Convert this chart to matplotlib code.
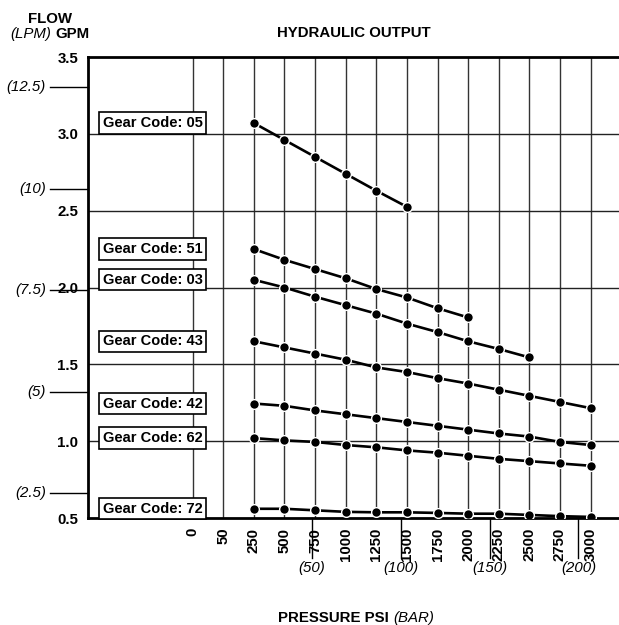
import numpy as np
import matplotlib.pyplot as plt
from matplotlib.transforms import blended_transform_factory

plt.rcParams['font.family'] = ['Liberation Sans', 'DejaVu Sans']

# pressure categories (psi) along the x axis
psi_labels = ['0', '50', '250', '500', '750', '1000', '1250', '1500',
              '1750', '2000', '2250', '2500', '2750', '3000']
psi_values = [0, 50, 250, 500, 750, 1000, 1250, 1500, 1750, 2000, 2250, 2500, 2750, 3000]

# flow (gpm) for each gear code, starting at 250 psi
gear_codes = ['05', '51', '03', '43', '42', '62', '72']
flow_05 = [3.07, 2.96, 2.85, 2.74, 2.63, 2.525]
flow_51 = [2.25, 2.18, 2.12, 2.06, 1.99, 1.935, 1.865, 1.805]
flow_03 = [2.05, 2.00, 1.94, 1.885, 1.83, 1.765, 1.71, 1.65, 1.60, 1.545]
flow_43 = [1.65, 1.61, 1.57, 1.53, 1.48, 1.45, 1.41, 1.375, 1.335, 1.295, 1.255, 1.215]
flow_42 = [1.245, 1.23, 1.20, 1.175, 1.15, 1.125, 1.10, 1.075, 1.05, 1.03, 0.995, 0.975]
flow_62 = [1.02, 1.005, 0.995, 0.975, 0.96, 0.94, 0.925, 0.905, 0.885, 0.87, 0.855, 0.84]
flow_72 = [0.56, 0.56, 0.55, 0.54, 0.537, 0.537, 0.533, 0.528, 0.528, 0.52, 0.512, 0.507]
flows = [flow_05, flow_51, flow_03, flow_43, flow_42, flow_62, flow_72]

gpm_ticks = [0.5, 1.0, 1.5, 2.0, 2.5, 3.0, 3.5]
lpm_ticks = [2.5, 5, 7.5, 10, 12.5]
lpm_labels = ['(2.5)', '(5)', '(7.5)', '(10)', '(12.5)']
bar_ticks = [50, 100, 150, 200]
bar_labels = ['(50)', '(100)', '(150)', '(200)']

fs = 10.8

fig = plt.figure(figsize=(6.19, 6.25), dpi=100)
ax = fig.add_axes([88 / 619, 107 / 625, 531 / 619, 461 / 625])

x_idx = np.arange(len(psi_labels))
for flow in flows:
    xs = x_idx[2:2 + len(flow)]
    ax.plot(xs, flow, color='black', lw=1.9, marker='o', ms=7,
            mfc='black', mec='white', mew=1, zorder=4)

# gear code boxes, placed at the first value of each curve
for code, flow in zip(gear_codes, flows):
    ax.text(-1.3, flow[0], 'Gear Code: ' + code, ha='center', va='center',
            fontsize=10.5, fontweight='bold', zorder=5,
            bbox=dict(boxstyle='square,pad=0.25', fc='white', ec='black', lw=1.2))

ax.set_xlim(-3.42, 13.93)
ax.set_ylim(0.5, 3.5)
ax.set_xticks(x_idx)
ax.set_xticklabels(psi_labels, rotation=90, fontweight='bold', fontsize=fs)
ax.set_yticks(gpm_ticks)
ax.set_yticklabels([f'{v:.1f}' for v in gpm_ticks], fontweight='bold', fontsize=fs)
ax.tick_params(length=0, pad=7)
for t in ax.get_yticklabels():
    t.set_bbox(dict(fc='white', ec='none', pad=1))

for xi in x_idx:
    ax.axvline(xi, color='#333333', lw=1, zorder=1)
for yv in gpm_ticks[1:-1]:
    ax.axhline(yv, color='#222222', lw=1, zorder=1)

for side in ['left', 'top', 'bottom']:
    ax.spines[side].set_linewidth(2)
ax.spines['right'].set_visible(False)

# LPM secondary scale on the left
tr = blended_transform_factory(fig.transFigure, ax.transData)
for lpm, lab in zip(lpm_ticks, lpm_labels):
    g = lpm / 3.785
    ax.plot([50 / 619, 88 / 619], [g, g], color='black', lw=1, transform=tr, clip_on=False, zorder=2)
    ax.text(46 / 619, g, lab, transform=tr, ha='right', va='center', fontsize=fs, style='italic')

# BAR secondary scale below
trb = blended_transform_factory(ax.transData, ax.transAxes)
for bar, lab in zip(bar_ticks, bar_labels):
    xb = np.interp(bar * 14.5038, psi_values, x_idx)
    ax.plot([xb, xb], [0, -0.087], color='black', lw=1, transform=trb, clip_on=False)
    ax.text(xb, -0.108, lab, transform=trb, ha='center', va='center', fontsize=fs, style='italic')

fig.text(50 / 619, 1 - 19 / 625, 'FLOW', ha='center', va='center', fontsize=fs, fontweight='bold')
fig.text(51 / 619, 1 - 34 / 625, '(LPM)', ha='right', va='center', fontsize=fs, style='italic')
fig.text(55 / 619, 1 - 34 / 625, 'GPM', ha='left', va='center', fontsize=fs, fontweight='bold')
fig.text(354 / 619, 1 - 33 / 625, 'HYDRAULIC OUTPUT', ha='center', va='center', fontsize=fs, fontweight='bold')
fig.text(389 / 619, 1 - 618 / 625, 'PRESSURE PSI', ha='right', va='center', fontsize=fs, fontweight='bold')
fig.text(393 / 619, 1 - 618 / 625, '(BAR)', ha='left', va='center', fontsize=fs, style='italic')

fig.savefig('out.png', dpi=100)
